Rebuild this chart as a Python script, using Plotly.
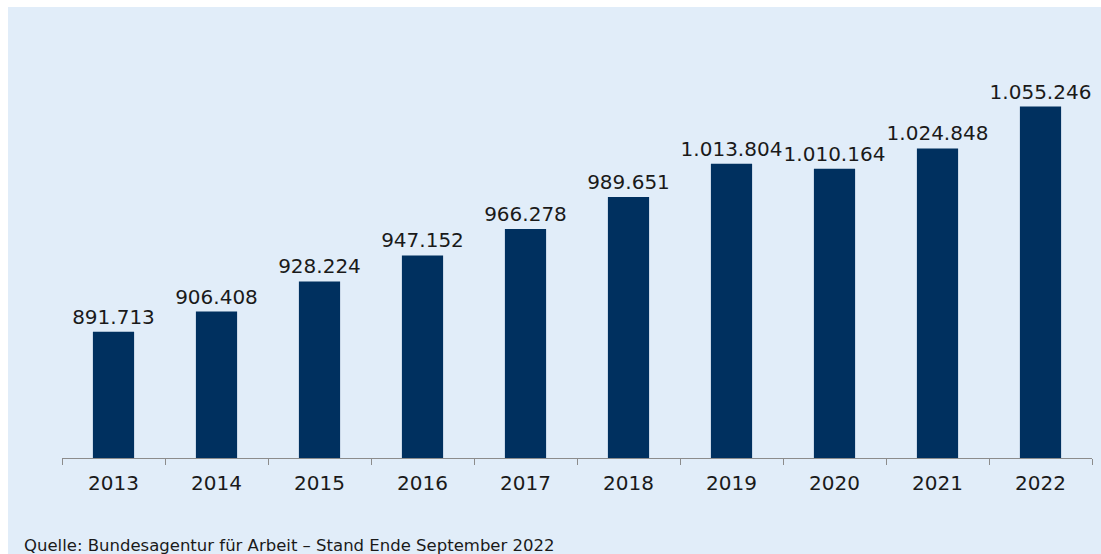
import plotly.graph_objects as go

# Beschäftigte je Jahr (Stand jeweils Ende September)
years = ["2013", "2014", "2015", "2016", "2017", "2018", "2019", "2020", "2021", "2022"]
values = [891713, 906408, 928224, 947152, 966278, 989651, 1013804, 1010164, 1024848, 1055246]


def de_format(n):
    return f"{n:,}".replace(",", ".")


labels = [de_format(v) for v in values]

W, H = 1101, 554
ML, MR, MT, MB = 62, 9, 45, 96
PANEL = "#e1edf9"
BAR = "#00305f"
TEXT = "#1a1a1a"
FONT = "DejaVu Sans"

fig = go.Figure(
    go.Bar(
        x=years,
        y=values,
        text=labels,
        textposition="outside",
        constraintext="none",
        textfont=dict(family=FONT, size=20, color=TEXT),
        marker=dict(color=BAR, line=dict(width=0)),
        cliponaxis=False,
        hoverinfo="skip",
    )
)

pw = W - ML - MR
ph = H - MT - MB
# light blue panel, leaving a thin white strip on top and left
x0 = (8 - ML) / pw
y1 = (H - MB - 7) / ph
y0 = -(MB) / ph
fig.add_shape(
    type="rect", xref="paper", yref="paper",
    x0=x0, x1=(W - ML) / pw + 0.01, y0=y0 - 0.01, y1=y1,
    fillcolor=PANEL, line=dict(width=0), layer="below",
)

fig.add_annotation(
    text="Quelle: Bundesagentur für Arbeit – Stand Ende September 2022",
    xref="paper", yref="paper",
    x=(22 - ML) / pw, y=-(545 - (H - MB)) / ph,
    xanchor="left", yanchor="middle", showarrow=False,
    font=dict(family=FONT, size=16.5, color=TEXT),
)

fig.update_layout(
    width=W, height=H,
    margin=dict(l=ML, r=MR, t=MT, b=MB, pad=0),
    paper_bgcolor="white",
    plot_bgcolor="rgba(0,0,0,0)",
    bargap=0.6,
    showlegend=False,
    font=dict(family=FONT, color=TEXT),
)
fig.update_xaxes(
    type="category",
    showline=True, linecolor="#8c8c8c", linewidth=1,
    ticks="outside", tickson="boundaries", ticklen=6, tickcolor="#8c8c8c",
    ticklabelstandoff=7,
    tickfont=dict(family=FONT, size=20, color=TEXT),
    showgrid=False,
)
fig.update_yaxes(
    range=[800000, 1100000],
    showticklabels=False, showgrid=False, zeroline=False, showline=False,
)

fig.write_html("out.html")
